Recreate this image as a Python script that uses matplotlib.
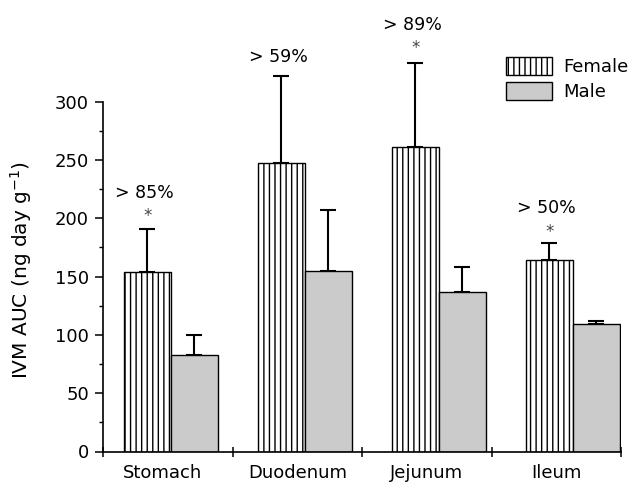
import numpy as np
import matplotlib
matplotlib.use('Agg')
import matplotlib.pyplot as plt
from matplotlib.patches import Patch

# data
sites = ['Stomach', 'Duodenum', 'Jejunum', 'Ileum']
female = [154, 247, 261, 164]
female_err = [37, 75, 72, 15]
male = [83, 155, 137, 109]
male_err = [17, 52, 21, 2.5]
notes = ['> 85%', '> 59%', '> 89%', '> 50%']
note_y = [222, 338, 366, 209]
star = [True, False, True, True]
star_y = [202, 0, 346, 188]

plt.rcParams['font.family'] = 'DejaVu Sans'
plt.rcParams['hatch.linewidth'] = 1.0

fig = plt.figure(figsize=(6.4, 4.9), dpi=100)
ax = fig.add_axes([103 / 640, 1 - 451.5 / 490, 518 / 640, 451.5 / 490])

x = np.arange(len(sites))
w = 0.35
ax.bar(x - w / 2, female, w, color='white', edgecolor='black', hatch='|||',
       linewidth=1.0, label='Female', zorder=2)
ax.bar(x + w / 2, male, w, color='#cbcbcb', edgecolor='black',
       linewidth=1.0, label='Male', zorder=2)
ax.errorbar(x - w / 2, female, yerr=[np.zeros(4), female_err], fmt='none',
            ecolor='black', elinewidth=1.5, capsize=6, capthick=1.5, zorder=1)
ax.errorbar(x + w / 2, male, yerr=[np.zeros(4), male_err], fmt='none',
            ecolor='black', elinewidth=1.5, capsize=6, capthick=1.5, zorder=1)

for i in range(len(sites)):
    ax.text(x[i] - w / 2 - 0.02, note_y[i], notes[i], ha='center', va='center',
            fontsize=12.5)
    if star[i]:
        ax.text(x[i] - w / 2, star_y[i], '*', ha='center', va='center',
                fontsize=12, color='#444444')

ax.set_xlim(-0.505, 3.361)
ax.set_ylim(0, 387)
ax.spines['top'].set_visible(False)
ax.spines['right'].set_visible(False)
ax.spines['left'].set_bounds(0, 300)
ax.spines['left'].set_linewidth(1.2)
ax.spines['bottom'].set_linewidth(1.2)

ax.set_yticks(np.arange(0, 301, 50))
ax.set_yticks(np.arange(25, 300, 50), minor=True)
ax.tick_params(axis='y', which='major', length=6, width=1.1, pad=4, labelsize=13)
ax.tick_params(axis='y', which='minor', length=3, width=1.0)

bounds = np.linspace(-0.505, 3.361, 5)
ax.set_xticks(bounds, minor=True)
ax.set_xticks((bounds[:-1] + bounds[1:]) / 2 - np.array([0.04, 0, 0, 0]))
ax.set_xticklabels(sites)
ax.tick_params(axis='x', which='major', length=0, pad=9, labelsize=13)
ax.tick_params(axis='x', which='minor', direction='inout', length=7, width=1.1)

ax.set_ylabel('IVM AUC (ng day g$^{-1}$)', fontsize=14.5)
ax.yaxis.set_label_coords(-0.133, 0.403)

handles = [Patch(facecolor='white', edgecolor='black', hatch='|||', label='Female'),
           Patch(facecolor='#cbcbcb', edgecolor='black', label='Male')]
ax.legend(handles=handles, loc='upper left', bbox_to_anchor=(506 / 640, 1 - 57 / 490),
          bbox_transform=fig.transFigure, frameon=False, fontsize=13,
          borderpad=0, borderaxespad=0, handlelength=2.55, handleheight=1.15,
          handletextpad=0.6, labelspacing=0.35)

fig.savefig('out.png', dpi=100)
